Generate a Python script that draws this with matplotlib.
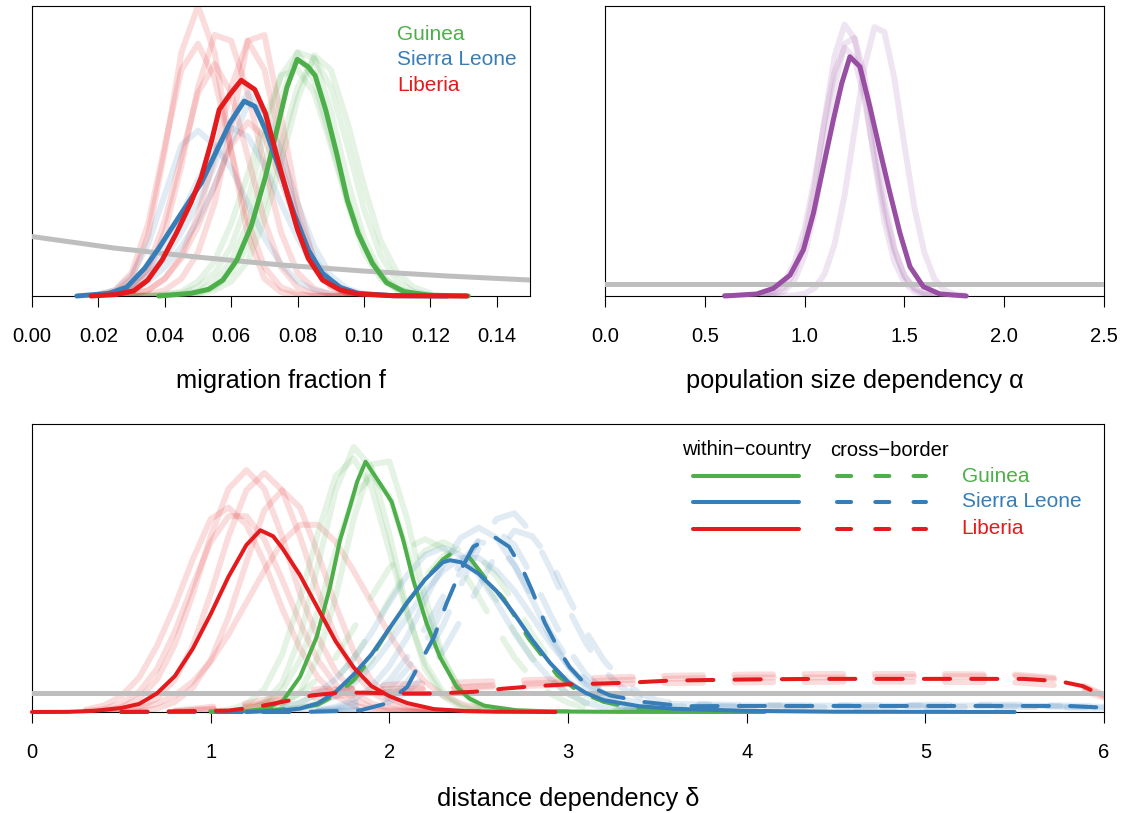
import matplotlib.pyplot as plt

plt.rcParams['font.family'] = ['Liberation Sans', 'DejaVu Sans']

green = '#4DAF4A'
blue = '#377EB8'
red = '#E41A1C'
purple = '#984EA3'
grey = '#BEBEBE'

# ---------------- migration fraction f (heights in % of panel) ----------------
f_ticks = [0.00, 0.02, 0.04, 0.06, 0.08, 0.10, 0.12, 0.14]

f_prior_x = [0.0, 0.025, 0.05, 0.075, 0.10, 0.125, 0.15]
f_prior_y = [20.5, 16.5, 13.4, 10.7, 8.6, 6.9, 5.5]

f_guinea_x = [0.0382, 0.0478, 0.0532, 0.0575, 0.0617, 0.0660, 0.0703, 0.0735, 0.0768, 0.0799,
              0.0832, 0.0853, 0.0885, 0.0918, 0.0950, 0.0982, 0.1025, 0.1068, 0.1121, 0.1196, 0.1314]
f_guinea_y = [0, 0.9, 2.3, 5.5, 12.4, 24, 41, 56, 72, 81.6,
              79, 76, 64, 49, 33, 21.7, 11.3, 4.6, 1.5, 0.3, 0]

f_sierra_x = [0.0135, 0.0232, 0.0285, 0.0339, 0.0382, 0.0424, 0.0467, 0.0510, 0.0553, 0.0596, 0.0639,
              0.0671, 0.0703, 0.0746, 0.0789, 0.0832, 0.0875, 0.0928, 0.0982, 0.1089, 0.125]
f_sierra_y = [0, 0.9, 3.0, 9.5, 16.5, 24, 31.5, 39, 49.3, 59.7, 67.2,
              65.4, 57.4, 43.5, 28.6, 15.9, 7.8, 3.0, 0.9, 0.1, 0]

f_liberia_x = [0.0178, 0.0253, 0.0307, 0.0349, 0.0392, 0.0435, 0.0478, 0.0510, 0.0542, 0.0564, 0.0596,
               0.0630, 0.0671, 0.0703, 0.0735, 0.0768, 0.0800, 0.0832, 0.0875, 0.0928, 0.0982, 0.1089, 0.1309]
f_liberia_y = [0, 0.5, 1.8, 5.5, 12.4, 21.7, 32, 41, 54, 64.3, 69.5,
               74.4, 71.2, 63, 49.3, 35.5, 22.8, 13, 5.5, 2.1, 0.7, 0.1, 0]

# replicate runs, on a common grid
f_grid = [0.020, 0.025, 0.030, 0.035, 0.040, 0.045, 0.050, 0.055, 0.060, 0.065, 0.070,
          0.075, 0.080, 0.085, 0.090, 0.095, 0.100, 0.105, 0.110, 0.115, 0.120]
f_guinea_reps = [
    [0, 0, 0, 0, 0.3, 1, 3, 8, 17, 33, 55, 76, 84, 74, 54, 33, 17, 7, 2.5, 0.7, 0],
    [0, 0, 0, 0, 0, 0.3, 1, 3, 8, 17, 32, 52, 72, 82, 72, 52, 30, 14, 5, 1.5, 0.4],
    [0, 0, 0, 0, 0.2, 0.6, 1.5, 5, 12, 25, 45, 68, 84, 82, 64, 40, 20, 8, 2.5, 0.7, 0.2],
    [0, 0, 0, 0.2, 0.6, 1.5, 5, 12, 25, 42, 60, 76, 78, 70, 52, 32, 15, 6, 2, 0.5, 0],
    [0, 0, 0, 0, 0, 0.2, 0.8, 2, 5, 12, 26, 46, 68, 83, 78, 60, 38, 19, 8, 3, 1],
]
f_sierra_reps = [
    [0.5, 2, 7, 18, 35, 52, 57, 52, 44, 32, 20, 11, 5, 2, 0.7, 0.2, 0, 0, 0, 0, 0],
    [0, 1, 3, 7, 13, 22, 32, 45, 60, 70, 62, 45, 27, 13, 5, 1.5, 0.4, 0, 0, 0, 0],
    [0, 1.5, 4, 9, 17, 28, 40, 50, 58, 55, 45, 32, 20, 10, 4, 1.5, 0.5, 0, 0, 0, 0],
    [0, 0, 2, 5, 10, 17, 26, 38, 53, 66, 64, 50, 32, 17, 7, 2.5, 0.7, 0, 0, 0, 0],
]
f_liberia_reps = [
    [0.2, 1.3, 6, 21, 50, 84, 100, 84, 50, 21, 6, 1.3, 0.3, 0, 0, 0, 0, 0, 0, 0, 0],
    [0, 0.5, 2, 8, 22, 45, 72, 90, 88, 70, 45, 22, 8, 2.5, 0.6, 0, 0, 0, 0, 0, 0],
    [0, 0, 0, 0.5, 2, 6, 15, 32, 58, 88, 90, 62, 32, 12, 3.5, 1, 0.2, 0, 0, 0, 0],
    [0, 0, 0.5, 2, 6, 14, 28, 48, 72, 88, 78, 52, 26, 10, 3, 0.8, 0, 0, 0, 0, 0],
    [0.5, 2, 8, 25, 52, 78, 87, 75, 50, 26, 10, 3, 0.8, 0, 0, 0, 0, 0, 0, 0, 0],
    [0, 0, 0.5, 2, 6, 13, 24, 38, 52, 60, 55, 40, 24, 11, 4, 1, 0, 0, 0, 0, 0],
    [0, 0.6, 3, 10, 26, 48, 70, 80, 70, 48, 26, 10, 3, 0.7, 0, 0, 0, 0, 0, 0, 0],
]

# ---------------- population size dependency alpha ----------------
a_ticks = [0.0, 0.5, 1.0, 1.5, 2.0, 2.5]
a_prior_x = [0.0, 2.5]
a_prior_y = [4.0, 4.0]

a_x = [0.60, 0.76, 0.843, 0.927, 0.994, 1.044, 1.094, 1.144, 1.186, 1.227,
       1.277, 1.327, 1.377, 1.428, 1.478, 1.528, 1.595, 1.678, 1.81]
a_y = [0, 0.7, 2.6, 7.2, 15.9, 28.5, 44.6, 60.7, 73.3, 82.5,
       79.1, 65.3, 50.3, 35.4, 21.6, 10.1, 3.2, 0.7, 0]

a_grid = [0.60, 0.65, 0.70, 0.75, 0.80, 0.85, 0.90, 0.95, 1.00, 1.05, 1.10, 1.15, 1.20,
          1.25, 1.30, 1.35, 1.40, 1.45, 1.50, 1.55, 1.60, 1.65, 1.70, 1.75, 1.80]
a_reps = [
    [0, 0, 0, 0, 0.2, 0.9, 3, 8.3, 19.3, 37.6, 61, 82.6, 93.6, 88.7, 70.3, 46.5, 25.7, 11.8, 4.6, 1.5, 0.4, 0.1, 0, 0, 0],
    [0, 0, 0, 0, 0, 0, 0.1, 0.2, 0.8, 2.7, 7.6, 17.8, 34.6, 57, 79, 92.7, 91, 75, 52, 30.5, 15, 6, 2, 0.6, 0.2],
    [0, 0, 0, 0, 0.1, 0.5, 1.8, 5.5, 14, 29, 50, 72, 87, 89, 76, 55, 33, 16.5, 6.8, 2.4, 0.7, 0.2, 0, 0, 0],
    [0, 0, 0, 0.2, 0.6, 1.9, 5, 11.6, 23.3, 40.3, 60, 77.3, 85.7, 82, 67.7, 48.2, 29.6, 15.7, 7.1, 2.8, 0.9, 0.3, 0.1, 0, 0],
]

# ---------------- distance dependency delta ----------------
d_ticks = [0, 1, 2, 3, 4, 5, 6]
d_prior_x = [0.0, 6.0]
d_prior_y = [6.5, 6.5]

# within-country
d_guinea_x = [1.05, 1.2, 1.313, 1.407, 1.5, 1.593, 1.668, 1.724, 1.78, 1.82, 1.867, 1.947, 2.013,
              2.078, 2.134, 2.209, 2.283, 2.377, 2.45, 2.53, 2.712, 2.9, 3.3, 4.1]
d_guinea_y = [0, 0.3, 1.2, 4.1, 12.2, 26, 43.4, 59.7, 71.3, 80, 86.9, 79.4, 73,
              59.7, 45.8, 30.7, 19.1, 8.7, 4.6, 2.2, 0.6, 0.2, 0.05, 0]
d_sierra_x = [1.2, 1.4, 1.5, 1.6, 1.7, 1.8, 1.9, 2.0, 2.1, 2.2, 2.3, 2.34, 2.4, 2.5,
              2.6, 2.7, 2.8, 2.9, 3.0, 3.1, 3.2, 3.4, 3.6, 4.0, 4.5, 5.5]
d_sierra_y = [0, 0.5, 1.2, 3.0, 7, 13, 20, 29, 38, 46, 52, 52.7, 52, 48,
              42, 34, 25, 17, 10.5, 6.6, 4.1, 2.0, 1.1, 0.4, 0.1, 0]
d_liberia_x = [0, 0.2, 0.35, 0.5, 0.6, 0.7, 0.8, 0.9, 1.0, 1.1, 1.2, 1.278, 1.35, 1.4, 1.5,
               1.6, 1.7, 1.8, 1.9, 2.0, 2.1, 2.25, 2.43, 2.6, 2.93]
d_liberia_y = [0, 0.05, 0.4, 1.4, 2.8, 6.5, 12.5, 22, 34, 47, 58, 63.1, 61, 57, 47.5,
               36, 24.5, 15.5, 9, 5.5, 3.1, 1.0, 0.3, 0.1, 0]

# cross-border
d_guinea_cb_x = [1.0, 1.3, 1.5, 1.6, 1.7, 1.8, 1.9, 2.0, 2.1, 2.2, 2.3, 2.36, 2.45, 2.53,
                 2.64, 2.78, 2.94, 3.05, 3.2, 3.38, 3.57, 4.0, 4.1]
d_guinea_cb_y = [0, 0.5, 1.5, 2.5, 6, 11, 19, 29, 38, 46, 53, 55.6, 53.5, 47,
                 39.4, 25.5, 12.8, 7.5, 3.5, 1.2, 0.5, 0.1, 0]
d_sierra_cb_x = [0.5, 1.5, 1.7, 1.84, 1.98, 2.1, 2.17, 2.25, 2.32, 2.4, 2.47, 2.58, 2.67, 2.75,
                 2.8, 2.87, 2.95, 3.01, 3.1, 3.234, 3.42, 3.645, 4.0, 4.5, 5.0, 5.5, 5.8, 6.0]
d_sierra_cb_y = [0, 0, 0.3, 0.6, 2.9, 8.7, 16.8, 26, 37.7, 49.3, 57.4, 61.1, 57.4, 49,
                 42, 31, 21.5, 15.5, 9.5, 5.8, 3.5, 2.0, 2.1, 2.1, 2.1, 2.1, 2.1, 1.5]
d_liberia_cb_x = [0.5, 1.1, 1.25, 1.45, 1.57, 1.72, 1.87, 2.04, 2.25, 2.47, 2.64, 2.82, 3.0, 3.2,
                  3.38, 3.57, 4.0, 4.4, 4.8, 5.2, 5.55, 5.75, 5.88, 6.0]
d_liberia_cb_y = [0, 0.5, 1.7, 4.1, 5.8, 6.7, 6.7, 6.4, 6.4, 7.0, 8.1, 9.0, 9.6, 9.9,
                  10.3, 10.9, 11.3, 11.5, 11.5, 11.5, 11.5, 10.7, 9.0, 5.5]

# replicate runs
d_grid_red = [0.3, 0.4, 0.5, 0.6, 0.7, 0.8, 0.9, 1.0, 1.1, 1.2, 1.3, 1.4, 1.5, 1.6, 1.7,
              1.8, 1.9, 2.0, 2.1, 2.2, 2.3, 2.4, 2.5]
d_liberia_reps = [
    [0.1, 0.5, 1.7, 4.7, 11.3, 23.4, 40.9, 61, 77.5, 84, 77.5, 61, 41, 26, 14, 7, 3, 1.2, 0.5, 0.2, 0, 0, 0],
    [0, 0.1, 0.5, 1.7, 4.7, 11.3, 23, 41, 61, 77, 83, 77, 61, 42, 26, 14, 7, 3, 1.2, 0.5, 0.2, 0, 0],
    [0.8, 2.2, 5.5, 12, 23, 37, 53, 67, 71, 65, 52, 36, 22, 12, 5.5, 2.3, 0.9, 0.3, 0.1, 0, 0, 0, 0],
    [0, 0, 0, 0.3, 1.2, 3.5, 8.5, 18, 33, 52, 70, 77, 71, 55, 37, 21, 11, 5, 2, 0.8, 0.3, 0.1, 0],
    [0, 0.2, 0.5, 1.3, 2.9, 5.8, 10.5, 17.5, 27, 38, 49, 59, 65, 65, 59, 49, 38, 27, 17.5, 10.5, 5.8, 2.9, 1.3],
    [0.3, 1, 3, 7, 15, 28, 44, 59, 68, 68, 60, 46, 31, 18, 9.5, 4.3, 1.7, 0.6, 0.2, 0, 0, 0, 0],
]
d_grid_green = [1.0, 1.1, 1.2, 1.3, 1.4, 1.5, 1.6, 1.7, 1.8, 1.9, 2.0, 2.1, 2.2, 2.3, 2.4,
                2.5, 2.6, 2.7, 2.8, 2.9, 3.0]
d_guinea_reps = [
    [0, 0.1, 0.8, 3.2, 10, 26, 51, 77, 92, 85, 62, 35, 15, 5.5, 1.5, 0.3, 0.1, 0, 0, 0, 0],
    [0, 0, 0.1, 0.6, 2.2, 7, 19, 40, 67, 86, 87, 67, 40, 19, 7, 2.2, 0.6, 0.1, 0, 0, 0],
    [0.1, 0.8, 2.7, 8, 20, 39, 62, 82, 88, 78, 56, 34, 17, 7, 2.3, 0.7, 0.2, 0, 0, 0, 0],
    [0, 0.2, 0.8, 2.7, 7.5, 18, 35, 56, 75, 82, 75, 56, 35, 18, 7.5, 2.7, 0.8, 0.2, 0, 0, 0],
]
d_grid_mid = [1.4, 1.5, 1.6, 1.7, 1.8, 1.9, 2.0, 2.1, 2.2, 2.3, 2.4, 2.5, 2.6, 2.7, 2.8,
              2.9, 3.0, 3.1, 3.2, 3.3, 3.4, 3.5, 3.6]
d_guinea_cb_reps = [
    [3.2, 6.4, 11.5, 19, 29, 40, 50, 57, 60, 57, 50, 40, 29, 19, 11.5, 6.4, 3.2, 1.4, 0.6, 0.3, 0.1, 0, 0],
    [0.6, 1.4, 3, 6, 11, 18, 27, 38, 47, 54, 57, 54, 47, 38, 27, 18, 11, 6, 3, 1.4, 0.6, 0.2, 0.1],
    [1.4, 3.1, 6.3, 11.3, 18.7, 28, 39, 49, 56, 59, 56, 49, 39, 28, 18.7, 11.3, 6.3, 3.1, 1.4, 0.6, 0.2, 0.1, 0],
]
d_sierra_reps = [
    [1.5, 3.3, 6.5, 11.5, 18.5, 27.5, 38, 47.5, 54.5, 57, 54.5, 47.5, 38, 27.5, 18.5, 11.5, 6.5, 3.3, 1.5, 0.7, 0.3, 0.1, 0],
    [0.6, 1.4, 2.9, 5.5, 9.8, 16, 24, 33, 42, 49, 53.5, 53.5, 49, 42, 33, 24, 16, 9.8, 5.5, 2.9, 1.4, 0.6, 0.3],
    [0, 0.3, 0.7, 1.8, 4.2, 8.6, 16, 26, 39, 51, 60.5, 64, 60.5, 51, 39, 26, 16, 8.6, 4.2, 1.8, 0.7, 0.3, 0],
]
d_grid_bd = [1.6, 1.7, 1.8, 1.9, 2.0, 2.1, 2.2, 2.3, 2.4, 2.5, 2.6, 2.7, 2.8, 2.9, 3.0, 3.1,
             3.2, 3.3, 3.4, 3.5, 3.6, 4.0, 4.5, 5.0, 5.5, 6.0]
d_sierra_cb_reps = [
    [0.1, 0.3, 0.7, 2, 5, 10.5, 19, 30, 44, 57, 67, 69, 62, 50, 36, 24, 14.5, 8.5, 5, 3.5, 2.8, 2.3, 2.2, 2.2, 2.3, 1.8],
    [0.3, 0.8, 1.8, 4, 8, 15, 24, 36, 49, 60, 63, 58, 47, 34, 22, 13, 7.5, 4.5, 3.2, 2.6, 2.3, 2.0, 1.9, 2.0, 2.0, 1.6],
    [0.1, 0.2, 0.6, 1.5, 3.5, 7, 12.5, 21, 32, 43.5, 55, 63, 61, 53, 40, 28, 18, 11, 6.5, 4, 3, 2.4, 2.4, 2.5, 2.6, 2.0],
    [0.5, 1.3, 3, 6, 11, 19, 29, 40, 52, 59, 58, 51, 40, 28, 18, 11, 6.5, 4, 2.8, 2.2, 2, 1.7, 1.6, 1.7, 1.8, 1.3],
]
d_grid_rd = [0.8, 1.2, 1.6, 2.0, 2.5, 3.0, 3.5, 4.0, 4.5, 5.0, 5.5, 5.8, 6.0]
d_liberia_cb_reps = [
    [0.3, 2, 7, 9.5, 10.5, 11.5, 12.5, 13, 13.2, 13.2, 13, 11.5, 6],
    [0.5, 3, 8, 8, 8.5, 9.5, 10, 10.3, 10.5, 10.5, 10.3, 9, 5],
    [0.2, 1.5, 5, 7, 9, 10.5, 11.5, 12, 12, 12.3, 12.5, 11, 5.5],
]

countries = ['Guinea', 'Sierra Leone', 'Liberia']
colors = [green, blue, red]

faint_a = 0.15
faint_lw = 4.3
dash = (6.5, 5.25)


def faint(ax, grid, reps, col, dashed=False):
    for r in reps:
        ln, = ax.plot(grid, r, color=col, alpha=faint_a, lw=faint_lw, solid_capstyle='round')
        if dashed:
            ln.set_dashes(dash)
            ln.set_dash_capstyle('round')


def main(ax, x, y, col, lw, dashed=False):
    ln, = ax.plot(x, y, color=col, lw=lw, solid_capstyle='round', clip_on=False, zorder=5)
    if dashed:
        ln.set_dashes(dash)
        ln.set_dash_capstyle('round')


def style(ax, xlim, ticks, labels, xlabel, ylab_pos):
    ax.set_xlim(xlim)
    ax.set_ylim(0, 100)
    ax.set_yticks([])
    ax.set_xticks(ticks)
    ax.set_xticklabels(labels)
    ax.tick_params(axis='x', direction='out', length=8, width=0.8, labelsize=14.5, pad=14.5)
    for s in ax.spines.values():
        s.set_linewidth(0.8)
    ax.set_xlabel(xlabel, fontsize=18.3, va='center')
    ax.xaxis.set_label_coords(0.5, ylab_pos)


fig = plt.figure(figsize=(11.25, 8.13), dpi=100)
ax1 = fig.add_axes([32 / 1125, 1 - 296 / 813, 498 / 1125, 290 / 813])
ax2 = fig.add_axes([605 / 1125, 1 - 296 / 813, 499 / 1125, 290 / 813])
ax3 = fig.add_axes([32 / 1125, 1 - 712 / 813, 1072 / 1125, 288 / 813])

# top left
faint(ax1, f_grid, f_guinea_reps, green)
faint(ax1, f_grid, f_sierra_reps, blue)
faint(ax1, f_grid, f_liberia_reps, red)
ax1.plot(f_prior_x, f_prior_y, color=grey, lw=3.6, zorder=3)
main(ax1, f_guinea_x, f_guinea_y, green, 3.6)
main(ax1, f_sierra_x, f_sierra_y, blue, 3.6)
main(ax1, f_liberia_x, f_liberia_y, red, 3.6)
for i in range(3):
    ax1.text(0.110, 90.3 - 8.9 * i, countries[i], color=colors[i], fontsize=15, va='center', ha='left')
style(ax1, (0, 0.15), f_ticks, ['%.2f' % t for t in f_ticks], 'migration fraction f', -0.293)

# top right
faint(ax2, a_grid, a_reps, purple)
ax2.plot(a_prior_x, a_prior_y, color=grey, lw=3.6, zorder=3)
main(ax2, a_x, a_y, purple, 3.6)
style(ax2, (0, 2.5), a_ticks, ['%.1f' % t for t in a_ticks], 'population size dependency \u03b1', -0.293)

# bottom
faint(ax3, d_grid_red, d_liberia_reps, red)
faint(ax3, d_grid_green, d_guinea_reps, green)
faint(ax3, d_grid_mid, d_guinea_cb_reps, green, dashed=True)
faint(ax3, d_grid_mid, d_sierra_reps, blue)
faint(ax3, d_grid_bd, d_sierra_cb_reps, blue, dashed=True)
faint(ax3, d_grid_rd, d_liberia_cb_reps, red, dashed=True)
ax3.plot(d_prior_x, d_prior_y, color=grey, lw=3.6, zorder=3)
main(ax3, d_guinea_x, d_guinea_y, green, 2.9)
main(ax3, d_guinea_cb_x, d_guinea_cb_y, green, 2.9, dashed=True)
main(ax3, d_sierra_x, d_sierra_y, blue, 2.9)
main(ax3, d_sierra_cb_x, d_sierra_cb_y, blue, 2.9, dashed=True)
main(ax3, d_liberia_x, d_liberia_y, red, 2.9)
main(ax3, d_liberia_cb_x, d_liberia_cb_y, red, 2.9, dashed=True)

# legend
ax3.text(4.0, 91.2, 'within\u2212country', fontsize=14.5, ha='center', va='center')
ax3.text(4.80, 90.7, 'cross\u2212border', fontsize=14.5, ha='center', va='center')
leg_y = [81.9, 73.0, 63.7]
for i in range(3):
    ax3.plot([3.70, 4.295], [leg_y[i], leg_y[i]], color=colors[i], lw=2.9, solid_capstyle='round')
    ln, = ax3.plot([4.505, 5.005], [leg_y[i], leg_y[i]], color=colors[i], lw=2.9)
    ln.set_dashes((3.5, 6))
    ln.set_dash_capstyle('round')
    ax3.text(5.203, leg_y[i], countries[i], color=colors[i], fontsize=15, va='center', ha='left')
style(ax3, (0, 6), d_ticks, [str(t) for t in d_ticks], 'distance dependency \u03b4', -0.302)

fig.savefig('out.png', dpi=100)
